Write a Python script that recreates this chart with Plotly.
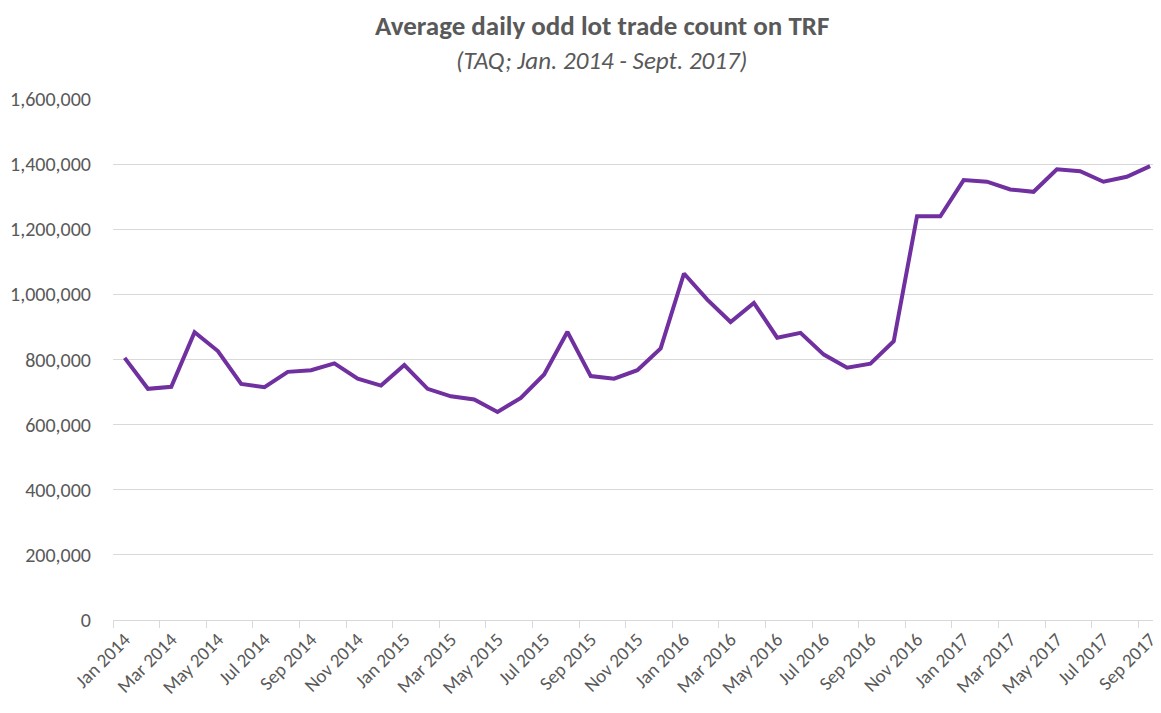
import plotly.graph_objects as go

months = ["Jan", "Feb", "Mar", "Apr", "May", "Jun", "Jul", "Aug", "Sep", "Oct", "Nov", "Dec"]
categories = [f"{m} {y}" for y in (2014, 2015, 2016, 2017) for m in months][:45]

odd_lot_counts = [
    805000, 710000, 716000, 884000, 826000, 725000, 715000, 762000, 767000, 788000, 741000, 720000,
    783000, 710000, 687000, 677000, 639000, 682000, 754000, 885000, 749000, 741000, 767000, 834000,
    1064000, 984000, 915000, 974000, 867000, 882000, 815000, 775000, 787000, 856000, 1240000, 1240000,
    1351000, 1346000, 1322000, 1315000, 1384000, 1378000, 1346000, 1361000, 1394000,
]

title_text = "Average daily odd lot trade count on TRF"
subtitle_text = "(TAQ; Jan. 2014 - Sept. 2017)"

FONT = "Carlito, Lato, sans-serif"
GRAY = "#595959"

fig = go.Figure(
    go.Scatter(
        x=categories,
        y=odd_lot_counts,
        mode="lines",
        line=dict(color="#7030A0", width=4),
        hoverinfo="x+y",
    )
)

fig.update_layout(
    width=1153,
    height=705,
    margin=dict(l=105, r=0, t=91, b=93),
    paper_bgcolor="white",
    plot_bgcolor="white",
    showlegend=False,
    font=dict(family=FONT, color=GRAY, size=19),
    annotations=[
        dict(text=f"<b>{title_text}</b>", xref="paper", yref="paper",
             x=0.4676, y=1.141, xanchor="center", yanchor="middle", showarrow=False,
             font=dict(family=FONT, size=27, color=GRAY)),
        dict(text=f"<i>{subtitle_text}</i>", xref="paper", yref="paper",
             x=0.4676, y=1.073, xanchor="center", yanchor="middle", showarrow=False,
             font=dict(family=FONT, size=25, color=GRAY)),
    ],
)

fig.update_xaxes(
    type="category",
    range=[-0.5, 44.34],
    tickmode="linear",
    tick0=0,
    dtick=2,
    tickson="boundaries",
    ticks="outside",
    ticklen=7,
    tickcolor="#d9d9d9",
    tickangle=-45,
    showgrid=False,
    showline=True,
    linecolor="#d9d9d9",
    linewidth=1,
    tickfont=dict(family=FONT, size=19, color=GRAY),
)

fig.update_yaxes(
    range=[0, 1600000],
    tickvals=[0, 200000, 400000, 600000, 800000, 1000000, 1200000, 1400000, 1600000],
    tickformat=",d",
    showgrid=True,
    gridcolor="#d9d9d9",
    gridwidth=1,
    zeroline=False,
    showline=False,
    ticks="",
    ticklabelstandoff=21,
    tickfont=dict(family=FONT, size=20, color=GRAY),
)

fig.write_html("out.html")
